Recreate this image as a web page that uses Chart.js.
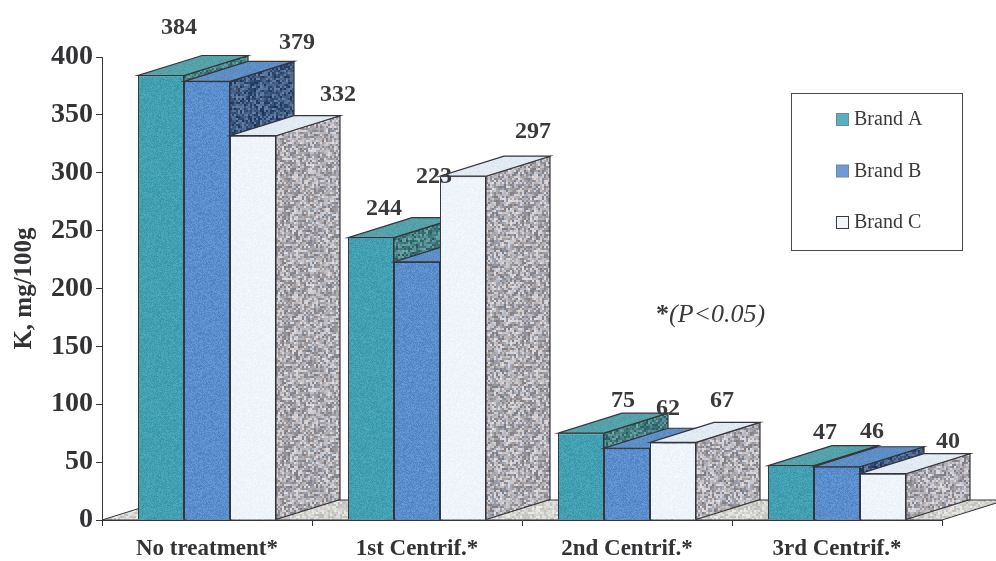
<!DOCTYPE html>
<html>
<head>
<meta charset="utf-8">
<title>K content by centrifugation step</title>
<script src="https://cdn.jsdelivr.net/npm/chart.js@4"></script>
<style>
  html, body { margin: 0; padding: 0; background: #fff; }
  canvas { display: block; }
</style>
</head>
<body>
<canvas id="chart" width="996" height="561"></canvas>
<script>
// Potassium values per treatment step, one list per brand.
const categories = ['No treatment*', '1st Centrif.*', '2nd Centrif.*', '3rd Centrif.*'];
const seriesNames = ['Brand A', 'Brand B', 'Brand C'];
const brandA = [384, 244, 75, 47];
const brandB = [379, 223, 62, 46];
const brandC = [332, 297, 67, 40];
const yTicks = [0, 50, 100, 150, 200, 250, 300, 350, 400];

// Offsets of the value labels from the top centre of each bar's front face.
const labelNudgeA = [[18, -48], [13, -29], [42, -32], [34, -33]];
const labelNudgeB = [[90, -39], [17, -85], [41, -39], [35, -35]];
const labelNudgeC = [[85, -41], [70, -44], [49, -42], [65, -32]];

// Receding direction of the extruded bars, in pixels.
const depthX = 64;
const depthY = 20;
const ink = '#35353a';
const serif = '"Liberation Serif", "Times New Roman", serif';

// Small deterministic speckle tile used for the printed-halftone surfaces.
// The noise is softened on a 3x3 repeat so the tile edges stay seamless.
function grain(rgb, amount, cell, tint, soften) {
  const size = 120;
  const raw = document.createElement('canvas');
  raw.width = raw.height = size;
  const g = raw.getContext('2d');
  let seed = 12345 + rgb[0] * 7 + rgb[2];
  const next = () => (seed = (seed * 1103515245 + 12345) & 0x7fffffff) / 0x7fffffff;
  for (let y = 0; y < size; y += cell) {
    for (let x = 0; x < size; x += cell) {
      const d = (next() - 0.5) * amount;
      const warm = (next() - 0.5) * tint;
      g.fillStyle = `rgb(${rgb[0] + d + warm},${rgb[1] + d},${rgb[2] + d - warm})`;
      g.fillRect(x, y, cell, cell);
    }
  }
  const wide = document.createElement('canvas');
  wide.width = wide.height = size * 3;
  const w = wide.getContext('2d');
  w.fillStyle = w.createPattern(raw, 'repeat');
  w.fillRect(0, 0, size * 3, size * 3);
  const tile = document.createElement('canvas');
  tile.width = tile.height = size;
  const t = tile.getContext('2d');
  t.filter = `blur(${soften}px)`;
  t.drawImage(wide, -size, -size);
  return t.createPattern(tile, 'repeat');
}

const skins = [
  { front: grain([66, 160, 178], 24, 1, 4, 0.5), top: grain([84, 162, 170], 16, 1, 4, 0.5), side: grain([72, 128, 132], 80, 2, 8, 0.7), swatch: '#58b0c0' },
  { front: grain([90, 142, 205], 28, 1, 6, 0.5), top: grain([94, 142, 198], 16, 1, 4, 0.5), side: grain([66, 92, 130], 80, 2, 8, 0.7), swatch: '#6e9bd6' },
  { front: grain([238, 244, 250], 10, 1, 2, 0.5), top: grain([226, 234, 243], 12, 1, 2, 0.5), side: grain([174, 172, 178], 100, 2, 16, 0.7), swatch: '#f2f6fb' }
];
const floorSkin = grain([212, 212, 208], 50, 2, 6, 0.7);

function polygon(ctx, pts, fill, width) {
  ctx.beginPath();
  pts.forEach((p, i) => (i ? ctx.lineTo(p[0], p[1]) : ctx.moveTo(p[0], p[1])));
  ctx.closePath();
  ctx.fillStyle = fill;
  ctx.fill();
  ctx.lineWidth = width;
  ctx.strokeStyle = ink;
  ctx.stroke();
}

const extrusion = {
  id: 'extrusion',
  // Floor, then each series back to front: later brands overlap earlier ones.
  beforeDatasetsDraw(chart) {
    const { ctx, chartArea: a } = chart;
    ctx.save();
    polygon(ctx, [[a.left, a.bottom], [a.right, a.bottom], [a.right + depthX, a.bottom - depthY], [a.left + depthX, a.bottom - depthY]], floorSkin, 1);
    chart.data.datasets.forEach((ds, s) => {
      const meta = chart.getDatasetMeta(s);
      const skin = skins[s];
      meta.data.forEach((bar) => {
        const { x, y, base, width } = bar.getProps(['x', 'y', 'base', 'width'], true);
        const l = x - width / 2;
        const r = x + width / 2;
        polygon(ctx, [[r, y], [r + depthX, y - depthY], [r + depthX, base - depthY], [r, base]], skin.side, 1.2);
        polygon(ctx, [[l, y], [r, y], [r + depthX, y - depthY], [l + depthX, y - depthY]], skin.top, 1.2);
      });
      meta.controller.draw();
    });
    ctx.restore();
    return false;
  },
  afterDraw(chart) {
    const { ctx, scales } = chart;
    ctx.save();
    // Value labels
    const nudges = [labelNudgeA, labelNudgeB, labelNudgeC];
    ctx.font = 'bold 24px ' + serif;
    ctx.fillStyle = '#3a3a3c';
    ctx.textAlign = 'center';
    ctx.textBaseline = 'middle';
    chart.data.datasets.forEach((ds, s) => {
      ds.data.forEach((v, c) => {
        const bar = chart.getDatasetMeta(s).data[c];
        ctx.fillText(String(v), bar.x + nudges[s][c][0], scales.y.getPixelForValue(v) + nudges[s][c][1]);
      });
    });

    // Legend panel
    ctx.lineWidth = 1;
    ctx.strokeStyle = '#4a4a4c';
    ctx.strokeRect(791.5, 93.5, 171, 157);
    ctx.font = '20px ' + serif;
    ctx.textAlign = 'left';
    chart.data.datasets.forEach((ds, s) => {
      const cy = 120 + s * 51.5;
      ctx.fillStyle = skins[s].swatch;
      ctx.fillRect(836.5, cy - 6.5, 12, 12);
      ctx.strokeStyle = s === 2 ? '#3a3a3c' : '#6f8a96';
      ctx.strokeRect(836.5, cy - 6.5, 12, 12);
      ctx.fillStyle = '#3a3a3c';
      ctx.fillText(ds.label, 854, cy);
    });

    // Significance note
    let nx = 656;
    const note = [['*', 'bold 26px '], ['(P<0.05)', 'italic 26px ']];
    note.forEach(([text, face]) => {
      ctx.font = face + serif;
      ctx.fillText(text, nx, 315);
      nx += ctx.measureText(text).width;
    });
    ctx.restore();
  }
};

new Chart(document.getElementById('chart'), {
  type: 'bar',
  data: {
    labels: categories,
    datasets: [brandA, brandB, brandC].map((values, i) => ({
      label: seriesNames[i],
      data: values,
      backgroundColor: skins[i].front,
      borderColor: ink,
      borderWidth: 1,
      categoryPercentage: 0.657,
      barPercentage: 1
    }))
  },
  options: {
    responsive: false,
    animation: false,
    layout: { padding: { top: 57, right: 54, left: 0, bottom: 0 } },
    plugins: { legend: { display: false }, tooltip: { enabled: false } },
    scales: {
      x: {
        afterFit(scale) { scale.height = 41; },
        border: { color: ink, width: 1 },
        grid: { drawOnChartArea: false, drawTicks: true, tickLength: 6, tickColor: ink },
        ticks: { color: '#333336', font: { family: serif, size: 23, weight: 'bold' }, padding: 9, maxRotation: 0 }
      },
      y: {
        min: 0,
        max: 400,
        afterFit(scale) { scale.width = 102; },
        afterBuildTicks(scale) { scale.ticks = yTicks.map((value) => ({ value })); },
        border: { color: ink, width: 1 },
        grid: { drawOnChartArea: false, drawTicks: true, tickLength: 6, tickColor: ink },
        ticks: { color: '#333336', font: { family: serif, size: 28, weight: 'bold' }, padding: 3 },
        title: { display: true, text: 'K, mg/100g', color: '#333336', font: { family: serif, size: 25, weight: 'bold' }, padding: { top: 10, bottom: 0 } }
      }
    }
  },
  plugins: [extrusion]
});
</script>
</body>
</html>
